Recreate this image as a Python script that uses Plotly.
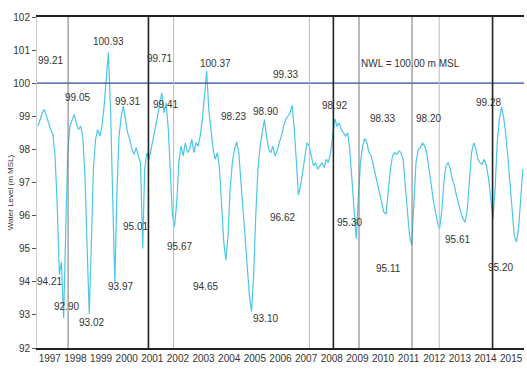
import pandas as pd
import plotly.graph_objects as go

# Monthly reservoir water level (m MSL), one list per year, Jan..Dec
level_1997 = [98.70, 98.95, 99.10, 99.21, 99.00, 98.75, 98.60, 98.45, 97.80, 96.40, 94.21, 94.60]
level_1998 = [92.90, 95.60, 97.90, 98.70, 98.85, 99.05, 98.80, 98.60, 98.70, 98.40, 97.20, 95.40]
level_1999 = [93.02, 95.20, 97.40, 98.30, 98.60, 98.40, 98.70, 99.30, 100.10, 100.93, 99.20, 96.30]
level_2000 = [93.97, 96.80, 98.40, 99.00, 99.31, 98.90, 98.50, 98.30, 98.00, 97.85, 98.05, 97.80]
level_2001 = [97.60, 95.01, 97.40, 97.90, 97.70, 98.00, 98.30, 98.60, 99.00, 99.40, 99.71, 99.10]
level_2002 = [99.41, 98.60, 97.20, 96.00, 95.67, 96.40, 97.60, 98.10, 97.80, 98.20, 97.90, 98.00]
level_2003 = [98.30, 97.90, 98.20, 98.10, 98.40, 98.90, 99.60, 100.37, 99.20, 98.60, 98.00, 97.70]
level_2004 = [97.90, 97.40, 96.30, 95.20, 94.65, 95.40, 96.80, 97.60, 98.00, 98.23, 97.90, 97.00]
level_2005 = [96.00, 95.20, 94.50, 93.60, 93.10, 94.20, 96.00, 97.40, 98.10, 98.50, 98.90, 98.40]
level_2006 = [98.00, 97.90, 98.10, 97.80, 97.95, 98.20, 98.40, 98.70, 98.90, 99.00, 99.10, 99.33]
level_2007 = [98.60, 97.60, 96.62, 96.90, 97.30, 97.80, 98.20, 98.10, 97.80, 97.50, 97.60, 97.40]
level_2008 = [97.50, 97.60, 97.45, 97.70, 97.60, 97.90, 98.40, 98.92, 98.70, 98.80, 98.60, 98.50]
level_2009 = [98.40, 98.50, 98.00, 97.10, 96.10, 95.30, 96.50, 97.60, 98.10, 98.33, 98.20, 97.90]
level_2010 = [97.80, 97.50, 97.20, 96.90, 96.60, 96.30, 96.10, 96.05, 96.70, 97.40, 97.80, 97.90]
level_2011 = [97.85, 97.95, 97.90, 97.70, 96.90, 96.00, 95.40, 95.11, 96.40, 97.60, 98.00, 98.05]
level_2012 = [98.20, 98.10, 97.90, 97.50, 97.00, 96.50, 96.10, 95.80, 95.61, 96.10, 97.00, 97.50]
level_2013 = [97.60, 97.40, 97.10, 96.90, 96.60, 96.30, 96.10, 95.90, 95.80, 96.20, 97.10, 97.90]
level_2014 = [98.20, 98.00, 97.70, 97.60, 97.55, 97.70, 97.50, 97.10, 96.50, 95.90, 96.80, 98.20]
level_2015 = [98.90, 99.28, 99.00, 98.50, 97.80, 96.90, 96.00, 95.40, 95.20, 95.60, 96.50, 97.40]

years = list(range(1997, 2016))
year_labels = [str(y) for y in years]

# Normal water level
nwl = 100.00

# Annotated extremes: (year, month)
labelled_points = [
    (1997, 4), (1997, 11), (1998, 1), (1998, 6), (1999, 1), (1999, 10),
    (2000, 1), (2000, 5), (2001, 2), (2001, 11), (2002, 1), (2002, 5),
    (2003, 8), (2004, 5), (2004, 10), (2005, 5), (2005, 11), (2006, 12),
    (2007, 3), (2008, 8), (2009, 6), (2009, 10), (2011, 8), (2012, 1),
    (2012, 9), (2015, 2), (2015, 9),
]
# pixel offsets of each value label from its point (right, down)
label_offsets = [
    (6, -49), (-10, 7), (3, -12), (3, -17), (2, 8), (0, -11),
    (6, 4), (4, -5), (-7, -22), (-2, -34), (-1, 2), (5, 20),
    (9, -7), (-20, 26), (-3, -25), (14, 7), (1, -8), (-7, -31),
    (-16, 22), (0, -13), (-7, -16), (18, -20), (-23, 23), (6, -24),
    (18, 11), (-13, -5), (-16, 25),
]

# Event dates marked with vertical lines, with their line weight class
event_dates = ["1998-03-20", "2001-05-08", "2002-05-01", "2007-08-18", "2008-07-25",
               "2009-07-25", "2011-08-20", "2012-09-10", "2014-10-10"]
event_kind = ["mid", "major", "minor", "minor", "major", "mid", "mid", "minor", "major"]

levels = []
for y in years:
    levels += globals()[f"level_{y}"]

dates = pd.date_range("1997-01-01", periods=len(levels), freq="MS") + pd.Timedelta(days=14)

font_family = "Liberation Sans Narrow, Liberation Sans, Arial"

fig = go.Figure()
fig.add_trace(go.Scatter(
    x=dates, y=levels, mode="lines",
    line=dict(color="#4cc6ea", width=1.2),
    showlegend=False, hoverinfo="skip",
))

# Normal water level line
fig.add_trace(go.Scatter(
    x=[pd.Timestamp("1997-01-01"), pd.Timestamp("2016-01-01")], y=[nwl, nwl],
    mode="lines", line=dict(color="#2c4aa0", width=1.3),
    showlegend=False, hoverinfo="skip",
))

line_styles = {
    "major": dict(color="#222222", width=1.6),
    "mid": dict(color="#777777", width=1.0),
    "minor": dict(color="#bbbbbb", width=1.0),
}
shapes = []
for d, k in zip(event_dates, event_kind):
    shapes.append(dict(type="line", xref="x", yref="paper", x0=d, x1=d, y0=0, y1=1,
                       line=line_styles[k], layer="above"))

annotations = []
for (yr, mo), (dx, dy) in zip(labelled_points, label_offsets):
    i = (yr - 1997) * 12 + (mo - 1)
    annotations.append(dict(
        x=dates[i], y=levels[i], xref="x", yref="y",
        text=f"{levels[i]:.2f}", showarrow=False,
        xanchor="center", yanchor="middle",
        xshift=dx, yshift=-dy,
        font=dict(family=font_family, size=10, color="#333333"),
    ))

annotations.append(dict(
    x=0.766, y=0.861, xref="paper", yref="paper",
    xanchor="center", yanchor="middle",
    text=f"NWL = {nwl:.2f} m MSL", showarrow=False,
    font=dict(family=font_family, size=10, color="#333333"),
))
annotations.append(dict(
    x=-0.054, y=0.47, xref="paper", yref="paper",
    xanchor="center", yanchor="middle",
    text="Water Level (m MSL)", showarrow=False, textangle=-90,
    font=dict(family=font_family, size=8, color="#333333"),
))

tick_dates = [pd.Timestamp(f"{y}-07-02") for y in years]

fig.update_layout(
    width=527, height=383,
    margin=dict(l=37, r=3, t=17, b=35),
    paper_bgcolor="white", plot_bgcolor="white",
    shapes=shapes, annotations=annotations,
    xaxis=dict(
        type="date", range=["1997-01-01", "2016-01-01"],
        tickvals=tick_dates, ticktext=year_labels, ticks="",
        showgrid=False, zeroline=False,
        showline=True, linecolor="#222222", linewidth=1.6, mirror=True,
        tickfont=dict(family=font_family, size=10, color="#333333"),
        automargin=False,
    ),
    yaxis=dict(
        range=[92, 102], dtick=1, tick0=92,
        showgrid=False, zeroline=False,
        showline=True, linecolor="#cccccc", linewidth=1,
        ticks="outside", ticklen=4, tickcolor="#555555",
        tickfont=dict(family=font_family, size=10, color="#333333"),
        automargin=False,
    ),
)

fig.write_html("out.html")
